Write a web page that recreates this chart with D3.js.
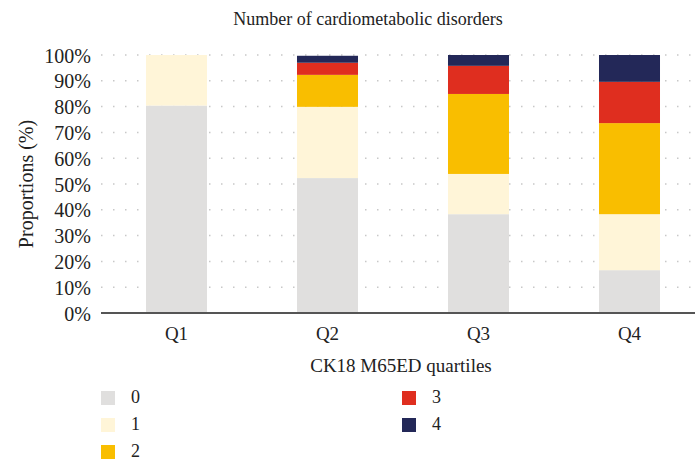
<!DOCTYPE html>
<html>
<head>
<meta charset="utf-8">
<script src="https://cdn.jsdelivr.net/npm/d3@7"></script>
<style>
  body { margin: 0; background: #fff; }
  text { font-family: "Liberation Serif", "DejaVu Serif", serif; fill: #222; }
</style>
</head>
<body>
<svg id="chart" width="695" height="460"></svg>
<script>
// stacked proportions (%) by quartile, one array per number of disorders
var quartiles = ["Q1", "Q2", "Q3", "Q4"];
var groups = ["0", "1", "2", "3", "4"];
var n0 = [80.4, 52.3, 38.3, 16.6];
var n1 = [19.6, 27.6, 15.6, 21.7];
var n2 = [0, 12.4, 31.0, 35.3];
var n3 = [0, 4.7, 10.9, 16.0];
var n4 = [0, 2.7, 4.2, 10.4];
var yTicks = [0, 10, 20, 30, 40, 50, 60, 70, 80, 90, 100];
var colors = ["#e0dfde", "#fff5d8", "#f9be00", "#df2e1f", "#232858"];

var svg = d3.select("#chart");
var x0 = 101, x1 = 705, yTop = 55, yBot = 313;

var rows = quartiles.map(function (q, i) {
	return { q: q, "0": n0[i], "1": n1[i], "2": n2[i], "3": n3[i], "4": n4[i] };
});

var x = d3.scaleBand().domain(quartiles).range([x0, x1]).paddingInner(0.596).paddingOuter(0.298);
var y = d3.scaleLinear().domain([0, 100]).range([yBot, yTop]);

// dotted horizontal grid
svg.append("g").selectAll("line").data(yTicks).enter().append("line")
	.attr("x1", x0).attr("x2", 695)
	.attr("y1", function (d) { return y(d); })
	.attr("y2", function (d) { return y(d); })
	.attr("stroke", "#c8c8c8").attr("stroke-width", 1.5)
	.attr("stroke-dasharray", "1.5,10.5");

// bars
var stack = d3.stack().keys(groups)(rows);
svg.append("g").selectAll("g").data(stack).enter().append("g")
	.attr("fill", function (d, i) { return colors[i]; })
	.selectAll("rect").data(function (d) { return d; }).enter().append("rect")
	.attr("x", function (d) { return x(d.data.q); })
	.attr("width", x.bandwidth())
	.attr("y", function (d) { return y(d[1]); })
	.attr("height", function (d) { return y(d[0]) - y(d[1]); });

// x axis line
svg.append("line").attr("x1", x0).attr("x2", 695).attr("y1", yBot).attr("y2", yBot)
	.attr("stroke", "#555").attr("stroke-width", 2);

// y tick labels
var yAxis = svg.append("g").attr("transform", "translate(" + (x0 - 10) + ",0)")
	.call(d3.axisLeft(y).tickValues(yTicks).tickSize(0).tickFormat(function (d) { return d + "%"; }));
yAxis.select(".domain").remove();
yAxis.selectAll("text").style("font-size", "20px").style("font-family", "Liberation Serif").attr("fill", "#222").attr("x", 0).attr("dy", "0.35em");

// x tick labels
var xAxis = svg.append("g").attr("transform", "translate(0," + yBot + ")")
	.call(d3.axisBottom(x).tickSize(0));
xAxis.select(".domain").remove();
xAxis.selectAll("text").style("font-size", "19px").style("font-family", "Liberation Serif").attr("fill", "#222").attr("y", 27).attr("dy", 0);

// titles
svg.append("text").attr("x", 368).attr("y", 25).attr("text-anchor", "middle")
	.style("font-size", "18px").text("Number of cardiometabolic disorders");
svg.append("text").attr("x", 401).attr("y", 372).attr("text-anchor", "middle")
	.style("font-size", "19px").text("CK18 M65ED quartiles");
svg.append("text").attr("transform", "translate(33,184) rotate(-90)").attr("text-anchor", "middle")
	.style("font-size", "20px").text("Proportions (%)");

// legend, two columns
var legend = svg.append("g").selectAll("g").data(groups).enter().append("g")
	.attr("transform", function (d, i) {
		var col = i < 3 ? 0 : 1, row = i < 3 ? i : i - 3;
		return "translate(" + (101 + col * 301) + "," + (391 + row * 27) + ")";
	});
legend.append("rect").attr("width", 14).attr("height", 14)
	.attr("fill", function (d, i) { return colors[i]; });
legend.append("text").attr("x", 30).attr("y", 12).style("font-size", "18px")
	.text(function (d) { return d; });
</script>
</body>
</html>
